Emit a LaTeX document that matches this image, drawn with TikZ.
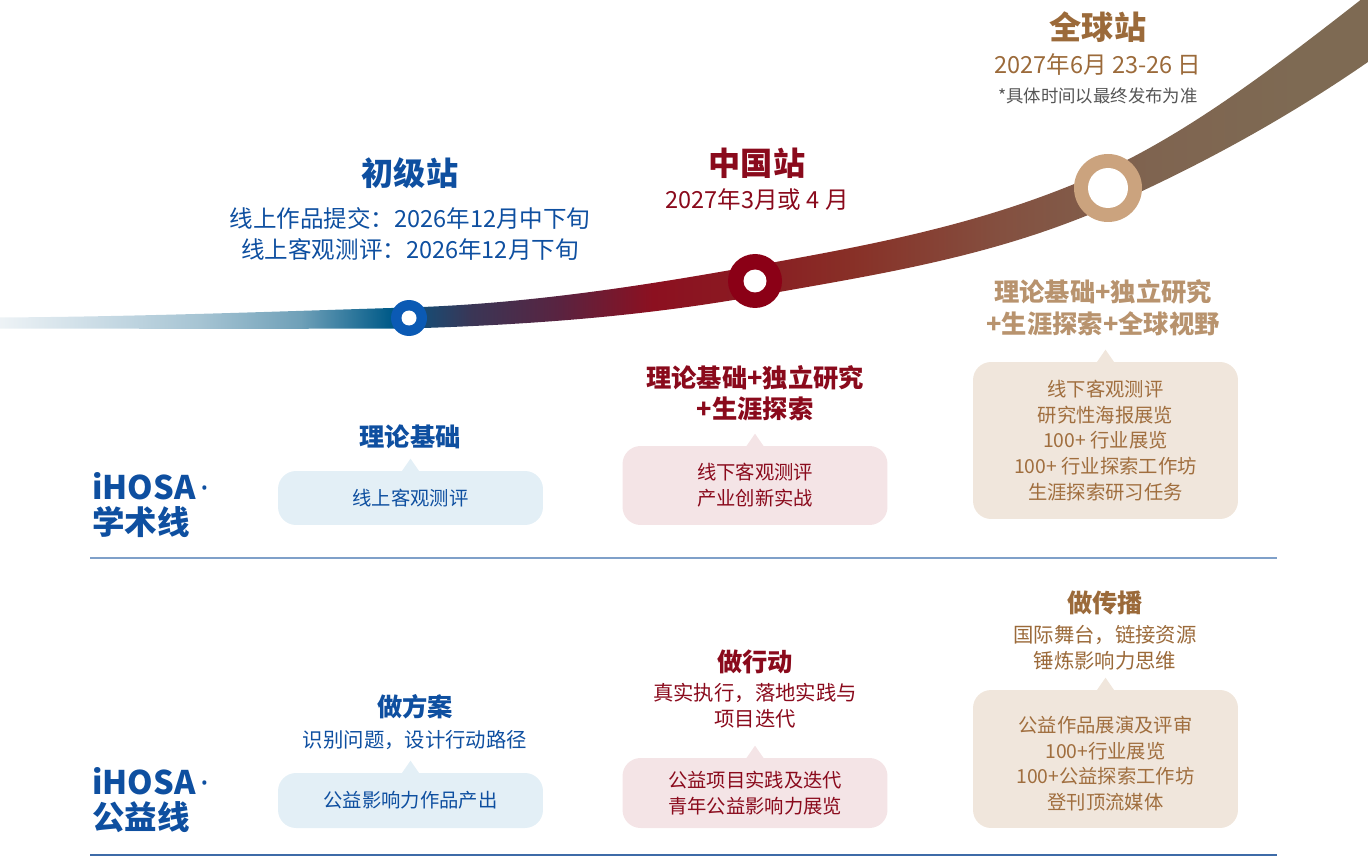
\documentclass[tikz,border=0pt]{standalone}
\usepackage{fontspec}
\setmainfont{Noto Sans CJK SC}
\newfontfamily\latinsans{Noto Sans}
\usetikzlibrary{calc}

\definecolor{acadblue}{HTML}{0E4FA0}
\definecolor{chinared}{HTML}{8A0A1C}
\definecolor{globebrown}{HTML}{9B6A3A}
\definecolor{globetan}{HTML}{B8936E}
\definecolor{boxbrown}{HTML}{A06E3E}
\definecolor{notegray}{HTML}{555555}
\definecolor{bluefill}{HTML}{E3EFF6}
\definecolor{pinkfill}{HTML}{F4E4E6}
\definecolor{beigefill}{HTML}{F0E6DC}
\definecolor{ringblue}{HTML}{0B5AB4}
\definecolor{ringred}{HTML}{8B0016}
\definecolor{ringtan}{HTML}{CBA37E}
\definecolor{sepupper}{HTML}{7FA0C9}
\definecolor{seplower}{HTML}{3D6BA8}

% colours along the arc
\definecolor{arcA}{HTML}{EEF3F6}
\definecolor{arcB}{HTML}{C9DBE5}
\definecolor{arcC}{HTML}{A6C4D3}
\definecolor{arcD}{HTML}{6FA0B8}
\definecolor{arcE}{HTML}{005A88}
\definecolor{arcF}{HTML}{3A3656}
\definecolor{arcG}{HTML}{5A2340}
\definecolor{arcH}{HTML}{8C1020}
\definecolor{arcI}{HTML}{8A1B22}
\definecolor{arcJ}{HTML}{883027}
\definecolor{arcK}{HTML}{845040}
\definecolor{arcL}{HTML}{7F6450}
\definecolor{arcM}{HTML}{7E6A53}

\pgfdeclarehorizontalshading{arcshade}{100bp}{color(0bp)=(arcA); color(25.1bp)=(arcA);
  color(28.7bp)=(arcB); color(32.1bp)=(arcC); color(35.6bp)=(arcD); color(38.7bp)=(arcE);
  color(41.5bp)=(arcF); color(44.6bp)=(arcG); color(47.8bp)=(arcH); color(51.2bp)=(arcI);
  color(54.7bp)=(arcJ); color(59.9bp)=(arcK); color(65bp)=(arcL); color(70.2bp)=(arcM);
  color(100bp)=(arcM)}

\tikzset{
  stationtitle/.style={font=\fontsize{18.3pt}{22pt}\selectfont\bfseries},
  datetext/.style={font=\fontsize{13.4pt}{18.1pt}\selectfont, align=center},
  heading/.style={font=\fontsize{14.4pt}{17.5pt}\selectfont\bfseries, align=center},
  subtext/.style={font=\fontsize{11.6pt}{14.7pt}\selectfont, align=center},
  bubble/.style={rounded corners=0.36cm, minimum width=5.3cm, inner sep=0pt,
    align=center, font=\fontsize{11pt}{14.7pt}\selectfont},
  linelabel/.style={font=\fontsize{18.5pt}{19.8pt}\selectfont\bfseries,
    align=left, anchor=west, text=acadblue},
  sepline/.style={line width=1.1pt}
}

% small pointer on top of a bubble
\newcommand{\bubbletip}[2]{%
  \fill[#2] ($(#1.north)+(-9,1)$) -- ($(#1.north)+(0,-12)$) -- ($(#1.north)+(9,1)$) -- cycle;}

\begin{document}
\begin{tikzpicture}[x=0.02cm, y=-0.02cm]
  \useasboundingbox (0,0) rectangle (1368,861);
  \clip (0,0) rectangle (1368,861);

  % the arc
  \shade[shading=arcshade] (-5,317.5)
    .. controls (135.9,316.8) and (271.8,311.6) .. (407.7,307.5)
    .. controls (522.6,304.1) and (637.4,286.9) .. (752.3,266.2)
    .. controls (868.5,245.3) and (984.8,224.8) .. (1101,172.5)
    .. controls (1201.6,127.2) and (1302.2,45.4) .. (1402.8,-33.1)
    -- (1437.2,11.1)
    .. controls (1329.8,94.9) and (1222.4,155.2) .. (1115,203.5)
    .. controls (996,257.1) and (876.8,274.4) .. (757.7,295.8)
    .. controls (641.2,316.8) and (524.8,325) .. (408.3,328.5)
    .. controls (272.2,329) and (136.1,328.8) .. (-5,328.5) -- cycle;

  % stations on the arc
  \fill[ringblue] (409,318) circle (18);
  \fill[white] (409,318) circle (7.5);
  \fill[ringred] (755,281) circle (27);
  \fill[white] (755,281) circle (11.5);
  \fill[ringtan] (1108,188) circle (34);
  \fill[white] (1108,188) circle (20);

  % station titles
  \node[stationtitle, text=acadblue] (juniorTitle) at (410,173) {初级站};
  \node[datetext, text=acadblue] (juniorDate) at (410,234)
    {线上作品提交：2026年12月中下旬\\线上客观测评：2026年12月下旬};
  \node[stationtitle, text=chinared] (chinaTitle) at (757,163) {中国站};
  \node[datetext, text=chinared] (chinaDate) at (757,200) {2027年3月或 4 月};
  \node[stationtitle, text=globebrown] (globalTitle) at (1098,27) {全球站};
  \node[datetext, text=globebrown] (globalDate) at (1098,65) {2027年6月 23-26 日};
  \node[font=\fontsize{9.9pt}{12pt}\selectfont, text=notegray] (globalNote) at (1098,96)
    {*具体时间以最终发布为准};

  % academic line
  \node[linelabel] (acadLabel) at (86,505) {iHOSA{\latinsans\,·}\\学术线};
  \node[heading, text=acadblue] (acadHeadA) at (410,437) {理论基础};
  \node[heading, text=chinared] (acadHeadB) at (755,393) {理论基础+独立研究\\+生涯探索};
  \node[heading, text=globetan, font=\fontsize{14.4pt}{18pt}\selectfont\bfseries]
    (acadHeadC) at (1103,308) {理论基础+独立研究\\+生涯探索+全球视野};

  \node[bubble, fill=bluefill, text=acadblue, minimum height=1.08cm]
    (acadBoxA) at (410.5,498) {线上客观测评};
  \node[bubble, fill=pinkfill, text=chinared, minimum height=1.58cm]
    (acadBoxB) at (755,485.5) {线下客观测评\\产业创新实战};
  \node[bubble, fill=beigefill, text=boxbrown, minimum height=3.14cm]
    (acadBoxC) at (1105.5,440.5)
    {线下客观测评\\研究性海报展览\\100+ 行业展览\\100+ 行业探索工作坊\\生涯探索研习任务};
  \bubbletip{acadBoxA}{bluefill}
  \bubbletip{acadBoxB}{pinkfill}
  \bubbletip{acadBoxC}{beigefill}

  \draw[sepline, sepupper] (90,558) -- (1277,558);

  % public welfare line
  \node[linelabel] (pubLabel) at (86,800) {iHOSA{\latinsans\,·}\\公益线};
  \node[heading, text=acadblue] (pubHeadA) at (415,707) {做方案};
  \node[subtext, text=acadblue] (pubSubA) at (415,740) {识别问题，设计行动路径};
  \node[heading, text=chinared] (pubHeadB) at (755,662) {做行动};
  \node[subtext, text=chinared] (pubSubB) at (755,706) {真实执行，落地实践与\\项目迭代};
  \node[heading, text=globebrown] (pubHeadC) at (1105,603) {做传播};
  \node[subtext, text=globebrown] (pubSubC) at (1105,648) {国际舞台，链接资源\\锤炼影响力思维};

  \node[bubble, fill=bluefill, text=acadblue, minimum height=1.1cm]
    (pubBoxA) at (410.5,800.5) {公益影响力作品产出};
  \node[bubble, fill=pinkfill, text=chinared, minimum height=1.4cm]
    (pubBoxB) at (755,793) {公益项目实践及迭代\\青年公益影响力展览};
  \node[bubble, fill=beigefill, text=boxbrown, minimum height=2.76cm]
    (pubBoxC) at (1105.5,759)
    {\rule{0pt}{14.5pt}公益作品展演及评审\\100+行业展览\\100+公益探索工作坊\\登刊顶流媒体};
  \bubbletip{pubBoxA}{bluefill}
  \bubbletip{pubBoxB}{pinkfill}
  \bubbletip{pubBoxC}{beigefill}

  \draw[sepline, seplower] (90,855) -- (1277,855);
\end{tikzpicture}
\end{document}
